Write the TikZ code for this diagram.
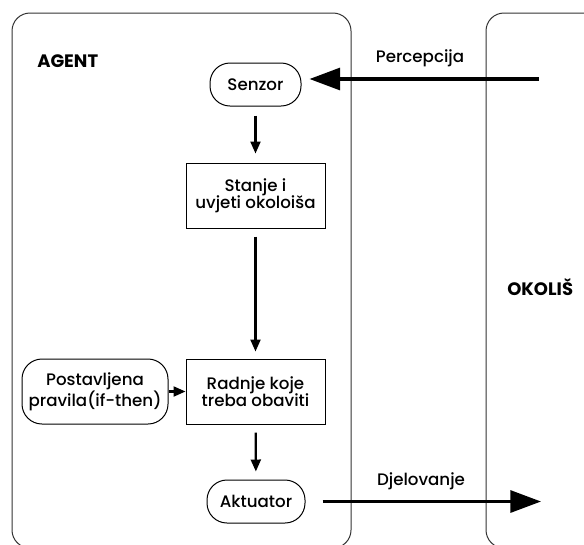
\documentclass[tikz,border=0pt]{standalone}
\usepackage{fontspec}
\setmainfont{Poppins}[UprightFont=* Medium, BoldFont=* Bold]
\usetikzlibrary{arrows.meta}

\begin{document}
\begin{tikzpicture}[x=0.75pt,y=0.75pt,yscale=-1,xscale=1,
  font=\fontsize{12.5}{13}\selectfont,
  okvir/.style={draw={rgb, 255:red, 51; green, 51; blue, 51}, line width=0.75pt, rounded corners=13.5pt},
  zaobljeni/.style={draw, line width=0.75pt, rounded corners=15pt, inner sep=0pt, align=center},
  pravokutnik/.style={draw, line width=0.75pt, inner sep=0pt, align=center, minimum width=104.25pt, minimum height=48.75pt},
  naslov/.style={anchor=base west, inner sep=0pt, font=\fontsize{13.5}{14}\selectfont\bfseries},
  strelica/.style={-{Triangle[length=9pt,width=7.5pt]}, line width=1.6pt},
  velikastrelica/.style={-{Triangle[length=23pt,width=16.5pt]}, line width=2.4pt}]
\useasboundingbox (0,0) rectangle (584,544);
\clip (0,0) rectangle (584,544);

%Shape: Rounded Rect [agent]
\draw [okvir] (12,13) rectangle (351,548);
%Shape: Rounded Rect [okolis]
\draw [okvir] (486,13) rectangle (630,548);

% Text Node
\node [naslov] (agent) at (37,67) {AGENT};
% Text Node
\node [naslov] (okolis) at (507,295) {OKOLIŠ};

% Nodes
\node [zaobljeni, minimum width=68.25pt, minimum height=32.25pt] (senzor) at (255.5,84.5) {Senzor};
\node [pravokutnik] (stanje) at (255.5,195.5) {Stanje i\\uvjeti okoloiša};
\node [pravokutnik] (radnje) at (255.5,391.5) {Radnje koje\\treba obaviti};
\node [zaobljeni, minimum width=109.5pt, minimum height=48.75pt] (pravila) at (95,391.5) {Postavljena\\pravila(if-then)};
\node [zaobljeni, minimum width=73.5pt, minimum height=32.25pt] (aktuator) at (256,501.5) {Aktuator};

% Free ends
\coordinate (ulaz) at (539,79);
\coordinate (izlaz) at (541,501.5);

%Straight Lines
\draw [strelica, shorten <=6.75pt, shorten >=6.75pt] (senzor) -- (stanje);
\draw [strelica, shorten <=6pt, shorten >=5.25pt] (stanje) -- (radnje);
\draw [strelica, shorten <=6pt, shorten >=6pt] (radnje) -- (aktuator);
\draw [strelica] (pravila) -- (radnje);
\draw [velikastrelica, shorten >=6pt] (ulaz) -- (ulaz -| senzor.east);
\draw [velikastrelica, shorten <=12.75pt] (aktuator) -- (izlaz);

% Text Node
\node [anchor=base, inner sep=0pt] (percepcija) at (420,62) {Percepcija};
% Text Node
\node [anchor=base, inner sep=0pt] (djelovanje) at (421,485) {Djelovanje};

\end{tikzpicture}
\end{document}
